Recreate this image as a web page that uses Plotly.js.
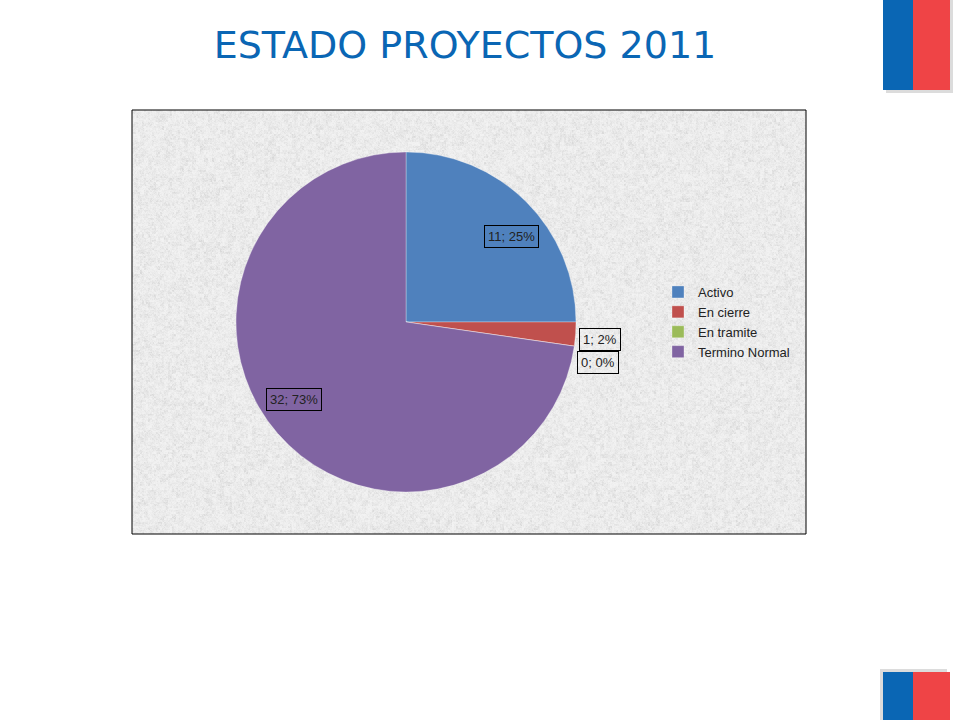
<!DOCTYPE html>
<html><head><meta charset="utf-8">
<script src="https://cdn.plot.ly/plotly-3.0.1.min.js"></script>
<style>html,body{margin:0;padding:0;background:#fff}#chart{width:960px;height:720px}</style>
</head><body><div id="chart"></div>
<script>
const categories = ["Activo", "En cierre", "En tramite", "Termino Normal"];
const values = [11, 1, 0, 32];
const colors = ["#4f81bd", "#c0504d", "#9bbb59", "#8064a2"];
const titleText = "ESTADO PROYECTOS 2011";

const W = 960, H = 720;
const cx = 406, cy = 322, r = 170;
const px = x => x / W, py = y => 1 - y / H;

// label placement style (angle nudge in degrees, radius factor) for inside labels
const insideNudge = [{da: 6, rf: 0.8}, null, null, {da: 6, rf: 0.8}];

const total = values.reduce((a, b) => a + b, 0);
const annotations = [];
let cum = 0, lastOutsideY = -1e9;
values.forEach((v, i) => {
  const frac = v / total;
  let mid = (cum + v / 2) / total * 2 * Math.PI;
  cum += v;
  const txt = v + "; " + Math.round(frac * 100) + "%";
  let x, y, xa = "center";
  if (frac >= 0.05) {
    const n = insideNudge[i] || {da: 0, rf: 0.8};
    mid += n.da * Math.PI / 180;
    x = cx + n.rf * r * Math.sin(mid);
    y = cy - n.rf * r * Math.cos(mid);
  } else {
    x = cx + r * Math.sin(mid) + 3;
    y = cy - 0.93 * r * Math.cos(mid) + 6;
    xa = "left";
    if (y < lastOutsideY + 23) y = lastOutsideY + 23;
    lastOutsideY = y;
  }
  annotations.push({
    x: px(x), y: py(y), xref: "paper", yref: "paper", xanchor: xa, yanchor: "middle",
    text: txt, showarrow: false,
    font: {family: "Liberation Sans, Arial, sans-serif", size: 13, color: "#222"},
    bordercolor: "#000", borderwidth: 1, borderpad: 3, bgcolor: "rgba(0,0,0,0)"
  });
});

// deterministic speckled texture for the chart area background
function texture(w, h) {
  const c = document.createElement("canvas");
  c.width = w; c.height = h;
  const ctx = c.getContext("2d");
  const img = ctx.createImageData(w, h);
  const hash = (x, y) => {
    let n = (x * 374761393 + y * 668265263) | 0;
    n = (n ^ (n >>> 13)) * 1274126177 | 0;
    return ((n ^ (n >>> 16)) >>> 0) / 4294967295;
  };
  for (let y = 0; y < h; y++) for (let x = 0; x < w; x++) {
    const a = hash(x, y), b = hash(x >> 1, y >> 1), d = hash(x >> 2, (y >> 2) + 999);
    const g = Math.round(243 - 28 * (0.35 * a + 0.35 * b + 0.3 * d) ** 1.8);
    const k = (y * w + x) * 4;
    img.data[k] = g; img.data[k + 1] = g; img.data[k + 2] = g; img.data[k + 3] = 255;
  }
  ctx.putImageData(img, 0, 0);
  return c.toDataURL("image/png");
}

const shapes = [
  {type: "rect", xref: "paper", yref: "paper", x0: px(132), x1: px(806), y0: py(534), y1: py(110),
   fillcolor: "rgba(0,0,0,0)", line: {color: "#000", width: 1}, layer: "above"},
  {type: "rect", xref: "paper", yref: "paper", x0: px(886), x1: px(953), y0: py(93), y1: py(0),
   fillcolor: "#dcdcdc", line: {width: 0}, layer: "below"},
  {type: "rect", xref: "paper", yref: "paper", x0: px(883), x1: px(913), y0: py(90), y1: py(0),
   fillcolor: "#0a66b4", line: {width: 0}},
  {type: "rect", xref: "paper", yref: "paper", x0: px(913), x1: px(950), y0: py(90), y1: py(0),
   fillcolor: "#ef4446", line: {width: 0}},
  {type: "rect", xref: "paper", yref: "paper", x0: px(880), x1: px(947), y0: py(720), y1: py(669),
   fillcolor: "#dcdcdc", line: {width: 0}, layer: "below"},
  {type: "rect", xref: "paper", yref: "paper", x0: px(883), x1: px(913), y0: py(720), y1: py(672),
   fillcolor: "#0a66b4", line: {width: 0}},
  {type: "rect", xref: "paper", yref: "paper", x0: px(913), x1: px(950), y0: py(720), y1: py(672),
   fillcolor: "#ef4446", line: {width: 0}}
];

const images = [{
  source: texture(674, 424), xref: "paper", yref: "paper",
  x: px(132), y: py(110), sizex: 674 / W, sizey: 424 / H,
  xanchor: "left", yanchor: "top", sizing: "stretch", layer: "below"
}];

const trace = {
  type: "pie", labels: categories, values: values, sort: false, direction: "clockwise",
  rotation: 0, textinfo: "none", hoverinfo: "label+value+percent",
  marker: {colors: colors, line: {color: "rgba(255,255,255,0.6)", width: 0.5}},
  domain: {x: [px(cx - r), px(cx + r)], y: [py(cy + r), py(cy - r)]}
};

const layout = {
  width: W, height: H, margin: {l: 0, r: 0, t: 0, b: 0},
  paper_bgcolor: "rgba(0,0,0,0)", plot_bgcolor: "rgba(0,0,0,0)",
  title: {text: titleText, x: px(465), xanchor: "center", y: py(45), yanchor: "middle",
          font: {family: "DejaVu Sans, Verdana, sans-serif", size: 38, color: "#0a66b4"}},
  showlegend: true,
  legend: {x: px(658), xanchor: "left", y: py(322), yanchor: "middle", bgcolor: "rgba(0,0,0,0)",
           font: {family: "Liberation Sans, Arial, sans-serif", size: 13, color: "#222"},
           itemwidth: 30, tracegroupgap: 0},
  shapes: shapes, annotations: annotations, images: images
};

Plotly.newPlot("chart", [trace], layout, {displayModeBar: false, staticPlot: true});
</script></body></html>
